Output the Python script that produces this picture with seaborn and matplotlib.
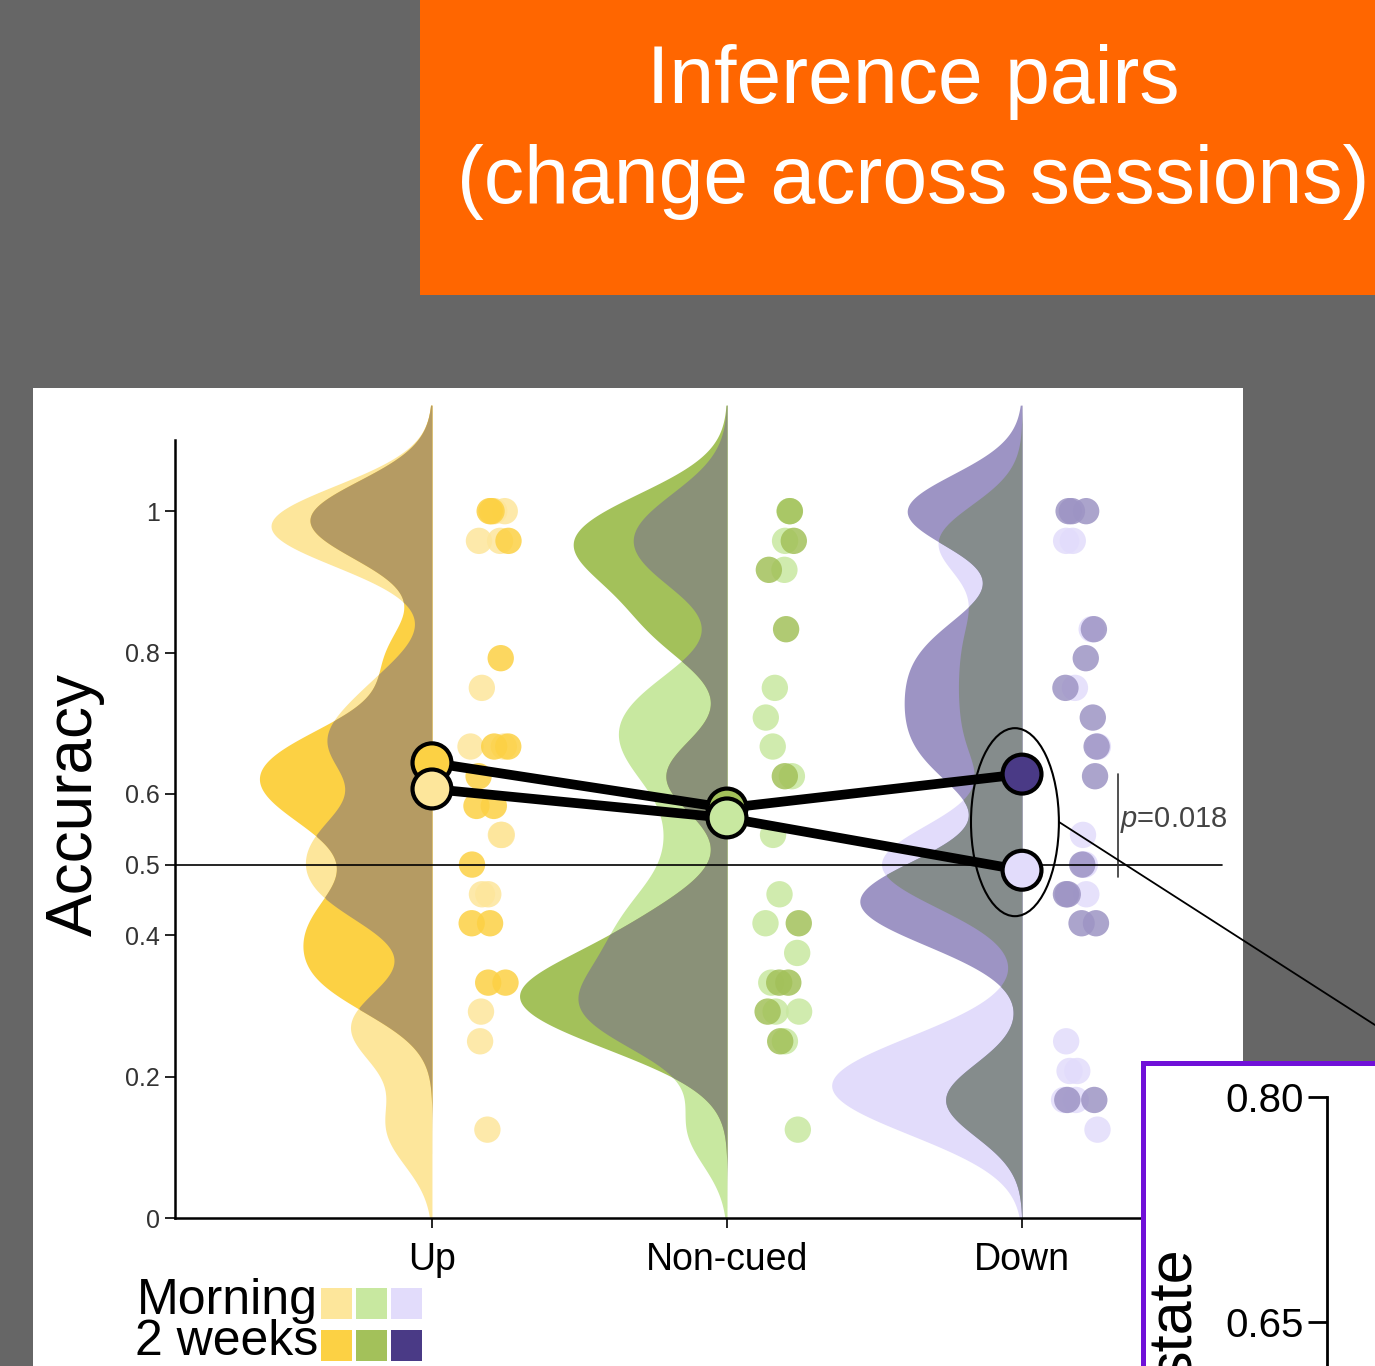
import numpy as np
import pandas as pd
import matplotlib
matplotlib.use("Agg")
import matplotlib.pyplot as plt
from matplotlib.patches import Rectangle, Ellipse
from matplotlib.lines import Line2D
import seaborn as sns

# ---------------- data ----------------
categories = ["Up", "Non-cued", "Down"]
session_labels = ["Morning", "2 weeks"]

up_morning = [1.0, 1.0, 0.958, 0.958, 0.75, 0.667, 0.667, 0.542, 0.542,
              0.458, 0.458, 0.292, 0.25, 0.125]
up_2weeks = [1.0, 1.0, 0.958, 0.792, 0.667, 0.667, 0.625, 0.583, 0.583,
             0.5, 0.417, 0.417, 0.333, 0.333]
nc_morning = [1.0, 0.958, 0.917, 0.75, 0.708, 0.667, 0.625, 0.542, 0.458,
              0.417, 0.375, 0.333, 0.292, 0.292, 0.25, 0.125]
nc_2weeks = [1.0, 0.958, 0.917, 0.833, 0.625, 0.417, 0.333, 0.333, 0.292, 0.25]
down_morning = [0.958, 0.958, 0.833, 0.75, 0.667, 0.542, 0.5, 0.5, 0.458,
                0.25, 0.208, 0.208, 0.167, 0.167, 0.125]
down_2weeks = [1.0, 1.0, 1.0, 0.833, 0.792, 0.75, 0.708, 0.667, 0.625, 0.5,
               0.458, 0.458, 0.417, 0.417, 0.167, 0.167]

mean_morning = [0.607, 0.566, 0.492]
mean_2weeks = [0.644, 0.580, 0.628]

y_ticks = [0, 0.2, 0.4, 0.5, 0.6, 0.8, 1]
y_ticklabels = ["0", "0.2", "0.4", "0.5", "0.6", "0.8", "1"]
p_text = "$p$=0.018"
title_lines = ["Inference pairs", "(change across sessions)"]
inset_ticks = [0.65, 0.80]
inset_ticklabels = ["0.65", "0.80"]
inset_label = "state"

# ---------------- styles ----------------
light_colors = ["#fde69b", "#c8e8a0", "#e2dcfb"]
dark_colors = ["#fcd144", "#a3c15a", "#4a3a86"]
dark_dot_colors = ["#fcd144", "#a3c15a", "#9d94c4"]
overlap_colors = ["#b59b63", "#8a9178", "#858c8c"]

W, H = 1375, 1366
sns.set_style("white")
plt.rcParams["font.family"] = ["Liberation Sans", "DejaVu Sans"]
plt.rcParams["mathtext.fontset"] = "custom"
plt.rcParams["mathtext.it"] = "Liberation Sans:italic"
plt.rcParams["mathtext.rm"] = "Liberation Sans"

fig = plt.figure(figsize=(W / 100, H / 100), dpi=100, facecolor="#666666")


def fx(x):
    return x / W


def fy(y):
    return 1 - y / H


# title box
fig.add_artist(Rectangle((fx(420), fy(295)), fx(1375) - fx(420), fy(0) - fy(295),
                         transform=fig.transFigure, facecolor="#ff6600",
                         edgecolor="none", zorder=-5))
fig.text(fx(913), fy(103), title_lines[0], ha="center", va="baseline",
         fontsize=58, color="white")
fig.text(fx(913), fy(203), title_lines[1], ha="center", va="baseline",
         fontsize=58, color="white")

# white panel
fig.add_artist(Rectangle((fx(33), 0), fx(1243) - fx(33), fy(388),
                         transform=fig.transFigure, facecolor="white",
                         edgecolor="none", zorder=-5))

# ---------------- main axes ----------------
ax = fig.add_axes([fx(175), fy(1218), fx(1243) - fx(175), fy(391) - fy(1218)])
ax.set_facecolor("none")
x0, x1 = 0.129, 3.749
ax.set_xlim(x0, x1)
ax.set_ylim(0, 1.17)

groups_m = [up_morning, nc_morning, down_morning]
groups_w = [up_2weeks, nc_2weeks, down_2weeks]
positions = [1, 2, 3]

grid = np.linspace(0, 1.15, 500)
bw = 0.052
K = 0.27


def kde(vals):
    v = np.asarray(vals)
    z = (grid[:, None] - v[None, :]) / bw
    return np.exp(-0.5 * z ** 2).sum(axis=1) / (len(v) * bw * np.sqrt(2 * np.pi))


for i, pos in enumerate(positions):
    dm = kde(groups_m[i])
    dw = kde(groups_w[i])
    ax.fill_betweenx(grid, pos - K * dm, pos, color=light_colors[i], lw=0, zorder=1)
    ax.fill_betweenx(grid, pos - K * dw, pos, color=dark_dot_colors[i], lw=0, zorder=1)
    ax.fill_betweenx(grid, pos - K * np.minimum(dm, dw), pos,
                     color=overlap_colors[i], lw=0, zorder=1.1)

# jittered dots
rng = np.random.default_rng(7)
rows = []
palette = {}
for i, pos in enumerate(positions):
    for sess, vals, col in [("m", groups_m[i], light_colors[i]),
                            ("w", groups_w[i], dark_dot_colors[i])]:
        key = f"{categories[i]}-{sess}"
        palette[key] = col
        offs = rng.uniform(0.13, 0.26, len(vals))
        for v, o in zip(vals, offs):
            rows.append({"x": pos + o, "y": v, "group": key})
df = pd.DataFrame(rows)
sns.scatterplot(data=df, x="x", y="y", hue="group", palette=palette, s=360,
                alpha=0.85, linewidth=0, legend=False, ax=ax, zorder=2)

# 0.5 reference line
ax.plot([x0, 3.678], [0.5, 0.5], color="black", lw=1.2, zorder=3)

# mean lines and markers
ax.plot(positions, mean_2weeks, color="black", lw=7, zorder=4,
        solid_capstyle="round")
ax.plot(positions, mean_morning, color="black", lw=7, zorder=4,
        solid_capstyle="round")
ax.scatter(positions, mean_2weeks, s=28 ** 2, c=dark_colors, edgecolors="black",
           linewidths=3, zorder=5)
ax.scatter(positions, mean_morning, s=28 ** 2, c=light_colors, edgecolors="black",
           linewidths=3, zorder=5.1)

# ellipse around Down means
ax.add_patch(Ellipse((2.976, 0.560), 0.298, 0.266, fill=False, ec="black",
                     lw=1.5, zorder=6))
# p bracket
ax.plot([3.325, 3.325], [mean_morning[2] - 0.01, mean_2weeks[2]], color="#333333",
        lw=1.2, zorder=3)
ax.text(3.333, 0.563, p_text, ha="left", va="center", fontsize=21, color="#444444")

# axes styling
for s in ["top", "right"]:
    ax.spines[s].set_visible(False)
ax.spines["left"].set_bounds(0, 1.1)
ax.spines["bottom"].set_bounds(x0, 3.5)
for s in ["left", "bottom"]:
    ax.spines[s].set_color("black")
    ax.spines[s].set_linewidth(1.8)
ax.set_yticks(y_ticks, y_ticklabels)
ax.set_xticks(positions, categories)
ax.tick_params(axis="y", direction="out", length=7, width=1.2, labelsize=18,
               color="black", labelcolor="#333333", left=True, pad=4)
ax.tick_params(axis="x", direction="out", length=7, width=1.2, labelsize=27,
               color="black", labelcolor="black", bottom=True, pad=10)
ax.set_xlabel("")
ax.set_ylabel("")
fig.text(fx(75), fy(805), "Accuracy", rotation=90, ha="center", va="center",
         fontsize=46, color="black")

# legend
fig.text(fx(318), fy(1314), session_labels[0], ha="right", va="baseline",
         fontsize=36, color="black")
fig.text(fx(318), fy(1355), session_labels[1], ha="right", va="baseline",
         fontsize=36, color="black")
for j in range(3):
    for top, col in [(1288, light_colors[j]), (1330, dark_colors[j])]:
        fig.add_artist(Rectangle((fx(321 + j * 35), fy(top + 31)), fx(31), 31 / H,
                                 transform=fig.transFigure, facecolor=col,
                                 edgecolor="none", zorder=2))

# connector line to inset
fig.add_artist(Line2D([fx(1059), fx(1375)], [fy(822), fy(1025)],
                      transform=fig.transFigure, color="black", lw=1.3, zorder=6))

# ---------------- inset ----------------
fig.add_artist(Rectangle((fx(1142.5), fy(1372)), fx(1390) - fx(1142.5),
                         fy(1062.5) - fy(1372), transform=fig.transFigure,
                         facecolor="white", edgecolor="#7010d8", lw=3.6, zorder=1))
iax = fig.add_axes([fx(1327), 0, fx(1375) - fx(1327), fy(1097)])
iax.set_zorder(2)
iax.set_facecolor("none")
iax.set_ylim(0.80 - (1366 - 1097) / 1500, 0.80)
iax.set_xlim(0, 1)
for s in ["top", "right", "bottom"]:
    iax.spines[s].set_visible(False)
iax.spines["left"].set_color("black")
iax.spines["left"].set_linewidth(2)
iax.set_xticks([])
iax.set_yticks(inset_ticks, inset_ticklabels)
iax.tick_params(axis="y", direction="out", length=14, width=2, labelsize=29,
                color="black", labelcolor="black", left=True, pad=3)
fig.text(fx(1175), fy(1247), inset_label, rotation=90, ha="center", va="top",
         fontsize=44, color="black", zorder=3)

fig.savefig("out.png", dpi=100, facecolor=fig.get_facecolor())
